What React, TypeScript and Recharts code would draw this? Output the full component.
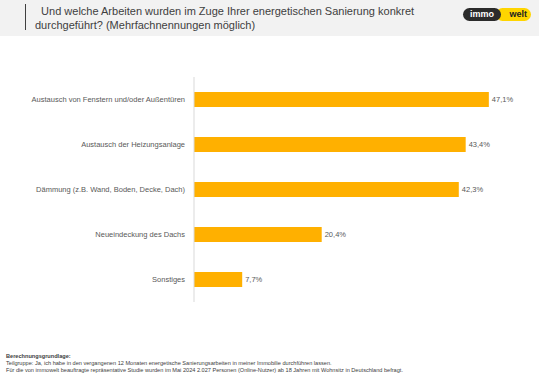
import { BarChart, Bar, XAxis, YAxis, LabelList } from "recharts";

const categories = [
  "Austausch von Fenstern und/oder Außentüren",
  "Austausch der Heizungsanlage",
  "Dämmung (z.B. Wand, Boden, Decke, Dach)",
  "Neueindeckung des Dachs",
  "Sonstiges",
];
const shares = [47.1, 43.4, 42.3, 20.4, 7.7];

const data = categories.map((name, i) => ({ name, value: shares[i] }));

const FONT = "'Liberation Sans', Arial, sans-serif";

function CategoryTick({ x, y, payload }: any) {
  return (
    <text x={x - 7} y={y} dy="0.35em" textAnchor="end" fontSize={7.5} fill="#595959" fontFamily={FONT}>
      {payload.value}
    </text>
  );
}

export default function App() {
  return (
    <div
      style={{
        position: "fixed",
        left: 0,
        top: 0,
        width: 539,
        height: 378,
        background: "#ffffff",
        fontFamily: FONT,
        overflow: "hidden",
      }}
    >
      {/* header band */}
      <div style={{ position: "absolute", left: 0, top: 0, width: 539, height: 36, background: "#f2f2f2" }} />
      <div style={{ position: "absolute", left: 25, top: 4, width: 1, height: 26, background: "#404040" }} />
      <div
        style={{
          position: "absolute",
          left: 35,
          top: 5,
          width: 420,
          fontSize: 11,
          lineHeight: "13.5px",
          color: "#404040",
          whiteSpace: "pre",
        }}
      >
        {"  Und welche Arbeiten wurden im Zuge Ihrer energetischen Sanierung konkret\ndurchgeführt? (Mehrfachnennungen möglich)"}
      </div>

      {/* logo */}
      <div
        style={{
          position: "absolute",
          left: 496,
          top: 8,
          width: 35,
          height: 13,
          borderRadius: 7,
          background: "#ffd500",
          color: "#222",
          fontSize: 9,
          fontWeight: 700,
          lineHeight: "13px",
          textAlign: "right",
          paddingRight: 4,
          boxSizing: "border-box",
        }}
      >
        welt
      </div>
      <div
        style={{
          position: "absolute",
          left: 463,
          top: 8,
          width: 38,
          height: 13,
          borderRadius: 7,
          background: "#2b2b2b",
          color: "#fff",
          fontSize: 9,
          fontWeight: 700,
          lineHeight: "13px",
          textAlign: "center",
        }}
      >
        immo
      </div>

      {/* chart */}
      <div style={{ position: "absolute", left: 0, top: 77 }}>
        <BarChart
          width={539}
          height={225}
          data={data}
          layout="vertical"
          margin={{ top: 0, right: 32, bottom: 0, left: 0 }}
          barCategoryGap={0}
        >
          <XAxis type="number" domain={[0, 50]} hide />
          <YAxis
            type="category"
            dataKey="name"
            width={194}
            tickLine={false}
            tickSize={0}
            axisLine={{ stroke: "#d9d9d9" }}
            tick={<CategoryTick />}
            interval={0}
          />
          <Bar dataKey="value" fill="#ffb000" barSize={15} isAnimationActive={false}>
            <LabelList
              dataKey="value"
              position="right"
              offset={3}
              formatter={(v: number) => `${v.toFixed(1).replace(".", ",")}%`}
              style={{ fontSize: 7.5, fill: "#595959", fontFamily: FONT }}
            />
          </Bar>
        </BarChart>
      </div>

      {/* footer */}
      <div
        style={{
          position: "absolute",
          left: 6,
          top: 353,
          fontSize: 5.6,
          lineHeight: "6.8px",
          color: "#404040",
          whiteSpace: "nowrap",
        }}
      >
        <div style={{ fontWeight: 700 }}>Berechnungsgrundlage:</div>
        <div>Teilgruppe: Ja, ich habe in den vergangenen 12 Monaten energetische Sanierungsarbeiten in meiner Immobilie durchführen lassen.</div>
        <div>
          Für die von immowelt beauftragte repräsentative Studie wurden im Mai 2024 2.027 Personen (Online-Nutzer) ab 18 Jahren mit Wohnsitz in Deutschland befragt.
        </div>
      </div>
    </div>
  );
}
